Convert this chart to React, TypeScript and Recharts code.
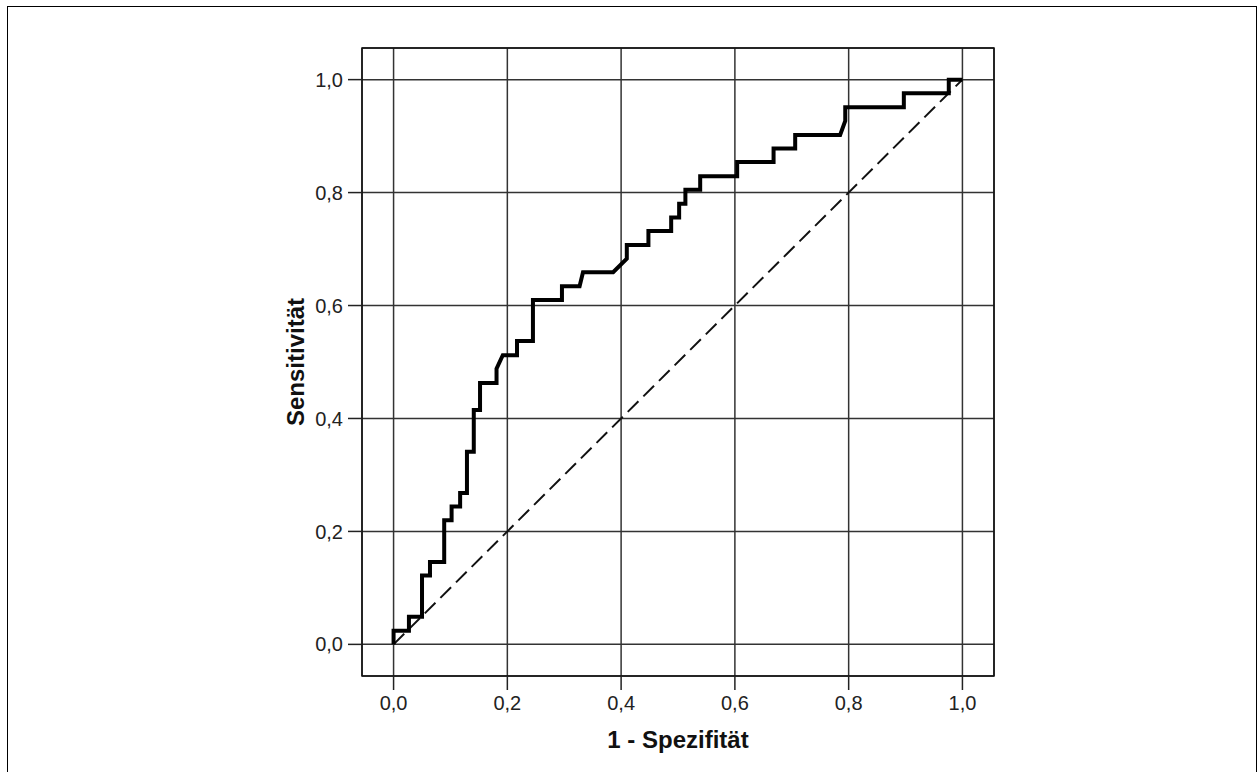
import React from 'react';
import { ComposedChart, Line, XAxis, YAxis, CartesianGrid, ReferenceArea } from 'recharts';

// ROC curve: 1 - specificity (x) vs sensitivity (y)
const fpr = [0, 0, 0.027, 0.027, 0.05, 0.05, 0.064, 0.064, 0.089, 0.089, 0.102, 0.102, 0.117, 0.117, 0.129, 0.129, 0.141, 0.141, 0.152, 0.152, 0.181, 0.181, 0.192, 0.217, 0.217, 0.245, 0.245, 0.296, 0.296, 0.327, 0.333, 0.386, 0.41, 0.41, 0.448, 0.448, 0.488, 0.488, 0.502, 0.502, 0.513, 0.513, 0.539, 0.539, 0.604, 0.604, 0.668, 0.668, 0.706, 0.706, 0.785, 0.794, 0.794, 0.897, 0.897, 0.976, 0.976, 1];
const tpr = [0, 0.024, 0.024, 0.049, 0.049, 0.122, 0.122, 0.146, 0.146, 0.22, 0.22, 0.244, 0.244, 0.268, 0.268, 0.341, 0.341, 0.415, 0.415, 0.463, 0.463, 0.488, 0.512, 0.512, 0.537, 0.537, 0.61, 0.61, 0.634, 0.634, 0.659, 0.659, 0.683, 0.707, 0.707, 0.732, 0.732, 0.756, 0.756, 0.78, 0.78, 0.805, 0.805, 0.829, 0.829, 0.854, 0.854, 0.878, 0.878, 0.902, 0.902, 0.927, 0.951, 0.951, 0.976, 0.976, 1, 1];

// reference diagonal
const diagX = [0, 1];
const diagY = [0, 1];

const xTicks = [0, 0.2, 0.4, 0.6, 0.8, 1.0];
const yTicks = [0, 0.2, 0.4, 0.6, 0.8, 1.0];
const xDomain: [number, number] = [-0.0555, 1.0555];
const yDomain: [number, number] = [-0.056, 1.056];

const xTitle = '1 - Spezifität';
const yTitle = 'Sensitivität';

const rocData = fpr.map((x, i) => ({ x, y: tpr[i] }));
const diagData = diagX.map((x, i) => ({ x, y: diagY[i] }));

const fmt = (v: number) => v.toFixed(1).replace('.', ',');
const FONT = '"Liberation Sans", Arial, sans-serif';
const tickStyle = { fill: '#222', fontSize: 20, fontFamily: FONT };

const XTitle = (props: any) => {
  const vb = props.viewBox || {};
  return (
    <text x={vb.x + vb.width / 2} y={vb.y + 72} textAnchor="middle" fontFamily={FONT} fontWeight="bold" fontSize={24} fill="#111">
      {xTitle}
    </text>
  );
};

const YTitle = (props: any) => {
  const vb = props.viewBox || {};
  const cx = vb.x + vb.width - 58;
  const cy = vb.y + vb.height / 2;
  return (
    <text x={cx} y={cy} transform={`rotate(-90, ${cx}, ${cy})`} textAnchor="middle" fontFamily={FONT} fontWeight="bold" fontSize={24} fill="#111">
      {yTitle}
    </text>
  );
};

export default function App() {
  return (
    <div style={{ position: 'absolute', left: 0, top: 0, width: 1257, height: 772, overflow: 'hidden', background: '#fff' }}>
      <div style={{ position: 'absolute', left: 7, top: 6, width: 1248, height: 800, border: '1px solid #000' }} />
      <div style={{ position: 'absolute', left: 0, top: 0 }}>
        <ComposedChart width={1257} height={772} margin={{ top: 48, right: 263, bottom: 0, left: 0 }}>
          <CartesianGrid stroke="#333" strokeWidth={1.5} />
          <XAxis
            type="number"
            dataKey="x"
            domain={xDomain}
            ticks={xTicks}
            allowDataOverflow
            tickFormatter={fmt}
            tickSize={14}
            tickMargin={6}
            axisLine={false}
            tickLine={{ stroke: '#222', strokeWidth: 1.5 }}
            tick={tickStyle}
            height={96}
            label={<XTitle />}
          />
          <YAxis
            type="number"
            dataKey="y"
            domain={yDomain}
            ticks={yTicks}
            allowDataOverflow
            tickFormatter={fmt}
            tickSize={14}
            tickMargin={5}
            axisLine={false}
            tickLine={{ stroke: '#222', strokeWidth: 1.5 }}
            tick={tickStyle}
            width={362}
            label={<YTitle />}
          />
          <ReferenceArea x1={xDomain[0]} x2={xDomain[1]} y1={yDomain[0]} y2={yDomain[1]} fill="none" fillOpacity={0} stroke="#111" strokeWidth={1.5} ifOverflow="visible" />
          <Line data={diagData} dataKey="y" type="linear" stroke="#111" strokeWidth={2} strokeDasharray="15 7" dot={false} activeDot={false} isAnimationActive={false} />
          <Line data={rocData} dataKey="y" type="linear" stroke="#000" strokeWidth={4} strokeLinejoin="miter" dot={false} activeDot={false} isAnimationActive={false} />
        </ComposedChart>
      </div>
    </div>
  );
}
